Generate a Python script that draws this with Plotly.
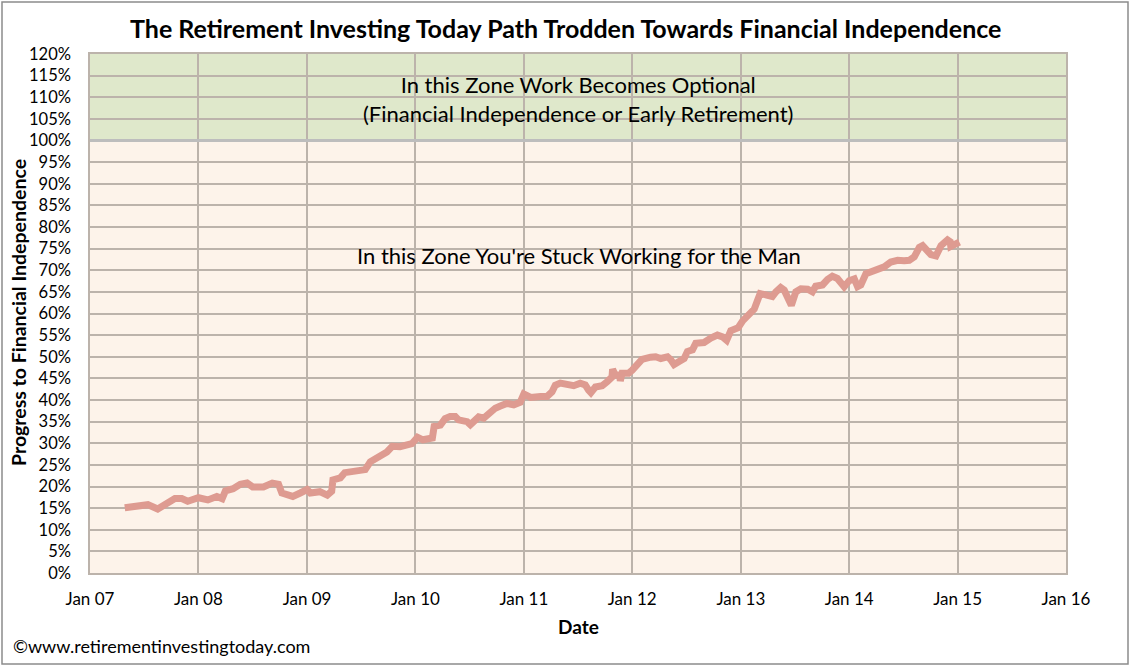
import plotly.graph_objects as go

# ---------------- data ----------------
dates = [
    "2007-04-28", "2007-06-07", "2007-07-15", "2007-08-17", "2007-09-17", "2007-10-14",
    "2007-11-06", "2007-11-26", "2008-01-01", "2008-02-02", "2008-03-03", "2008-03-21",
    "2008-04-01", "2008-04-27", "2008-05-21", "2008-06-13", "2008-07-02", "2008-08-07",
    "2008-09-06", "2008-09-27", "2008-10-08", "2008-11-14", "2008-12-09", "2009-01-01",
    "2009-01-12", "2009-02-13", "2009-03-10", "2009-03-25", "2009-03-29", "2009-04-23",
    "2009-05-08", "2009-06-21", "2009-07-16", "2009-08-02", "2009-08-29", "2009-09-27",
    "2009-10-15", "2009-11-10", "2009-12-20", "2010-01-08", "2010-01-26", "2010-02-27",
    "2010-03-05", "2010-03-26", "2010-04-11", "2010-04-28", "2010-05-15", "2010-05-26",
    "2010-06-24", "2010-07-05", "2010-07-16", "2010-08-02", "2010-08-19", "2010-09-04",
    "2010-09-27", "2010-10-14", "2010-11-05", "2010-11-28", "2010-12-20", "2011-01-01",
    "2011-01-24", "2011-02-26", "2011-03-20", "2011-04-06", "2011-04-17", "2011-05-04",
    "2011-05-27", "2011-06-18", "2011-07-10", "2011-07-27", "2011-08-07", "2011-08-15",
    "2011-08-30", "2011-09-22", "2011-10-08", "2011-10-25", "2011-10-27", "2011-11-05",
    "2011-11-20", "2011-11-22", "2011-11-28", "2011-12-20", "2012-01-01", "2012-01-18",
    "2012-02-03", "2012-03-03", "2012-03-20", "2012-04-06", "2012-04-29", "2012-05-10",
    "2012-05-21", "2012-06-07", "2012-06-24", "2012-07-05", "2012-07-22", "2012-08-02",
    "2012-08-30", "2012-09-22", "2012-10-14", "2012-10-31", "2012-11-14", "2012-11-28",
    "2012-12-23", "2013-01-07", "2013-01-29", "2013-02-15", "2013-02-26", "2013-03-07",
    "2013-03-26", "2013-04-17", "2013-04-29", "2013-05-15", "2013-05-27", "2013-06-09",
    "2013-06-20", "2013-07-05", "2013-07-22", "2013-08-14", "2013-08-30", "2013-09-10",
    "2013-10-03", "2013-10-20", "2013-11-05", "2013-11-22", "2013-12-15", "2014-01-01",
    "2014-01-18", "2014-01-29", "2014-02-09", "2014-02-26", "2014-03-20", "2014-04-06",
    "2014-04-29", "2014-05-21", "2014-06-13", "2014-07-05", "2014-07-22", "2014-08-08",
    "2014-08-25", "2014-09-05", "2014-09-16", "2014-10-03", "2014-10-20", "2014-10-31",
    "2014-11-06", "2014-11-28", "2014-12-07", "2014-12-09", "2014-12-20", "2015-01-07",
]
progress = [
    15.1, 15.5, 15.8, 14.8, 16.0, 17.2,
    17.2, 16.6, 17.4, 16.9, 17.7, 17.2,
    19.0, 19.5, 20.5, 20.8, 19.9, 19.9,
    20.8, 20.5, 18.5, 17.7, 18.5, 19.3,
    18.5, 18.8, 18.0, 18.9, 21.5, 22.0,
    23.2, 23.9, 23.9, 25.7, 26.6, 28.0,
    29.3, 29.2, 29.9, 31.4, 30.8, 31.2,
    33.9, 34.2, 35.7, 36.2, 36.2, 35.4,
    35.0, 34.3, 35.0, 36.1, 35.8, 36.9,
    38.1, 38.6, 39.2, 38.9, 39.5, 41.4,
    40.6, 40.8, 40.8, 41.9, 43.4, 43.9,
    43.7, 43.3, 43.9, 43.5, 42.3, 41.7,
    43.0, 43.3, 44.2, 45.3, 47.1, 45.8,
    45.8, 44.4, 46.2, 46.2, 46.9, 48.1,
    49.4, 49.9, 50.0, 49.6, 50.0, 49.3,
    48.2, 48.9, 49.6, 51.2, 51.6, 53.1,
    53.3, 54.3, 55.0, 54.6, 53.8, 56.0,
    56.7, 58.3, 60.0, 61.0, 63.0, 64.6,
    64.3, 63.9, 65.0, 66.0, 65.4, 63.5,
    61.9, 65.0, 65.7, 65.6, 65.0, 66.3,
    66.6, 67.9, 68.6, 68.1, 66.2, 67.6,
    68.0, 66.2, 66.6, 69.2, 69.7, 70.1,
    70.8, 71.9, 72.3, 72.2, 72.3, 73.1,
    75.3, 75.7, 74.6, 73.6, 73.3, 74.6,
    75.7, 77.0, 76.6, 75.5, 75.8, 76.5,
]

x_tick_dates = ["2007-01-01", "2008-01-01", "2009-01-01", "2010-01-01", "2011-01-01",
                "2012-01-01", "2013-01-01", "2014-01-01", "2015-01-01", "2016-01-01"]
x_tick_labels = ["Jan 07", "Jan 08", "Jan 09", "Jan 10", "Jan 11",
                 "Jan 12", "Jan 13", "Jan 14", "Jan 15", "Jan 16"]
y_tick_values = list(range(0, 125, 5))

title_text = "The Retirement Investing Today Path Trodden Towards Financial Independence"
zone_top_text = "In this Zone Work Becomes Optional<br>(Financial Independence or Early Retirement)"
zone_bottom_text = "In this Zone You're Stuck Working for the Man"
copyright_text = "©www.retirementinvestingtoday.com"

# ---------------- layout constants ----------------
W, H = 1130, 667
ML, MR, MT, MB = 90, 64, 54, 94
PW, PH = W - ML - MR, H - MT - MB
FONT = "Lato, 'Open Sans', sans-serif"
GRID = "#BCB3AB"


def px_x(px):
    return (px - ML) / PW


def px_y(py):
    return (H - MB - py) / PH


fig = go.Figure()
fig.add_trace(go.Scatter(
    x=dates, y=progress, mode="lines",
    line=dict(color="#DE9B91", width=7),
    hoverinfo="x+y", showlegend=False,
))

shapes = [
    dict(type="rect", xref="paper", yref="y", x0=0, x1=1, y0=100, y1=120,
         fillcolor="#DFE8CB", line=dict(width=0), layer="below"),
    dict(type="line", xref="paper", yref="y", x0=0, x1=1, y0=100, y1=100,
         line=dict(color="#BDBDBD", width=3), layer="above"),
    dict(type="rect", xref="paper", yref="paper",
         x0=px_x(2), x1=px_x(1128), y0=px_y(664), y1=px_y(2),
         line=dict(color="#8C8C8C", width=1.5), fillcolor="rgba(0,0,0,0)", layer="above"),
]

annotations = [
    dict(text=f"<b>{title_text}</b>", xref="paper", yref="paper",
         x=px_x(565), y=px_y(28), xanchor="center", yanchor="middle",
         showarrow=False, font=dict(family=FONT, size=25, color="#000000")),
    dict(text=zone_top_text, xref="paper", yref="paper",
         x=px_x(578), y=px_y(99), xanchor="center", yanchor="middle",
         showarrow=False, font=dict(family=FONT, size=22, color="#000000")),
    dict(text=zone_bottom_text, xref="paper", yref="paper",
         x=px_x(579), y=px_y(255), xanchor="center", yanchor="middle",
         showarrow=False, font=dict(family=FONT, size=22, color="#000000")),
    dict(text=copyright_text, xref="paper", yref="paper",
         x=px_x(11), y=px_y(646), xanchor="left", yanchor="middle",
         showarrow=False, font=dict(family=FONT, size=18, color="#000000")),
    dict(text="<b>Date</b>", xref="paper", yref="paper",
         x=px_x(578), y=px_y(626), xanchor="center", yanchor="middle",
         showarrow=False, font=dict(family=FONT, size=19, color="#000000")),
    dict(text="<b>Progress to Financial Independence</b>", xref="paper", yref="paper",
         x=px_x(18), y=px_y(313), xanchor="center", yanchor="middle", textangle=-90,
         showarrow=False, font=dict(family=FONT, size=19.5, color="#000000")),
]

fig.update_layout(
    width=W, height=H,
    margin=dict(l=ML, r=MR, t=MT, b=MB, autoexpand=False),
    paper_bgcolor="#FFFFFF",
    plot_bgcolor="#FDF3EA",
    shapes=shapes,
    annotations=annotations,
    font=dict(family=FONT, size=17, color="#000000"),
    xaxis=dict(
        type="date", range=["2007-01-01", "2016-01-01"],
        tickmode="array", tickvals=x_tick_dates, ticktext=x_tick_labels,
        showgrid=True, gridcolor=GRID, gridwidth=1.5,
        showline=True, linecolor=GRID, linewidth=1.5, mirror=True,
        ticks="", ticklen=0, zeroline=False, ticklabelstandoff=10,
        tickfont=dict(family=FONT, size=17, color="#000000"),
    ),
    yaxis=dict(
        range=[0, 120], tickmode="array", tickvals=y_tick_values,
        ticktext=[f"{v}%" for v in y_tick_values],
        showgrid=True, gridcolor=GRID, gridwidth=1.5,
        showline=True, linecolor=GRID, linewidth=1.5, mirror=True,
        ticks="", zeroline=False, ticklabelstandoff=14,
        tickfont=dict(family=FONT, size=16.5, color="#000000"),
    ),
)

fig.write_html("out.html", config={"displayModeBar": False},
               post_script="document.body.style.margin='0px';")
